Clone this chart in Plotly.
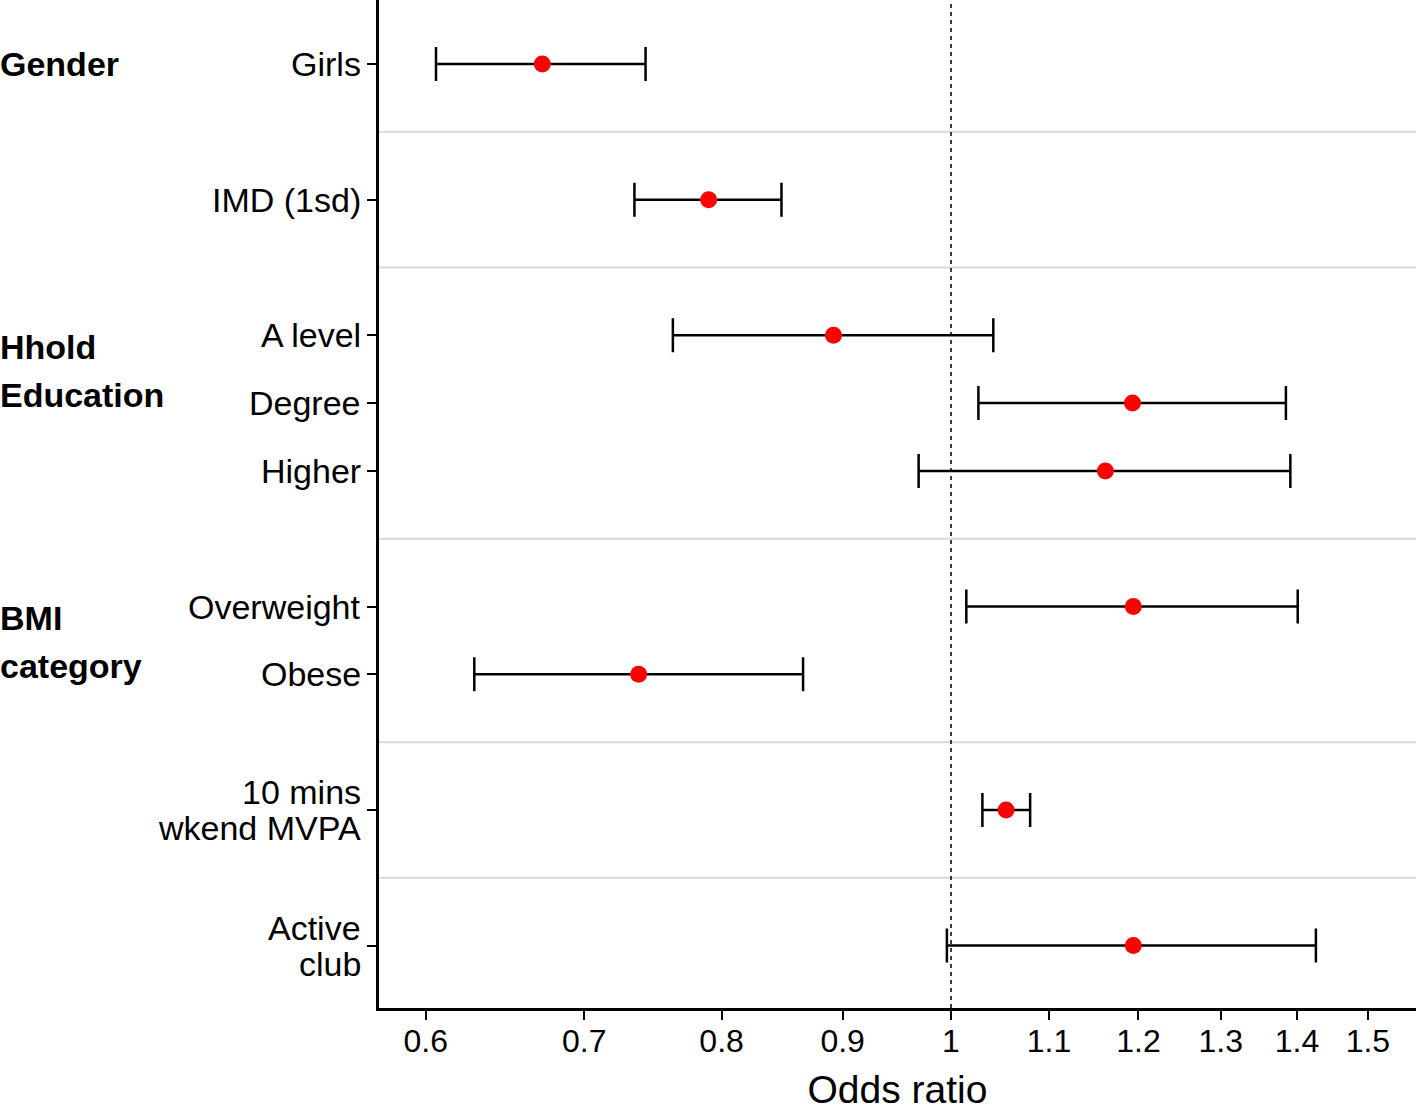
import plotly.graph_objects as go

# ---- data ----
groups = ["Gender", "", "Hhold<br>Education", "BMI<br>category", "", ""]
group_items = [
    ["Girls"],
    ["IMD (1sd)"],
    ["A level", "Degree", "Higher"],
    ["Overweight", "Obese"],
    ["10 mins<br>wkend MVPA"],
    ["Active<br>club"],
]
odds_ratio = [0.672, 0.790, 0.892, 1.193, 1.162, 1.194, 0.738, 1.055, 1.194]
ci_lower = [0.606, 0.735, 0.763, 1.027, 0.969, 1.015, 0.629, 1.031, 0.996]
ci_upper = [0.743, 0.848, 1.042, 1.385, 1.391, 1.401, 0.866, 1.080, 1.426]
x_ticks = [0.6, 0.7, 0.8, 0.9, 1.0, 1.1, 1.2, 1.3, 1.4, 1.5]
x_tick_labels = ["0.6", "0.7", "0.8", "0.9", "1", "1.1", "1.2", "1.3", "1.4", "1.5"]

# ---- layout of rows: one empty slot between groups ----
labels, ypos, group_start, separators = [], [], [], []
p = 0
for gi, items in enumerate(group_items):
    group_start.append(p)
    for it in items:
        labels.append(it)
        ypos.append(p)
        p += 1
    if gi < len(group_items) - 1:
        separators.append(p)
        p += 1

FONT = "Liberation Sans, Arial, sans-serif"

err_plus = [u - m for u, m in zip(ci_upper, odds_ratio)]
err_minus = [m - l for m, l in zip(odds_ratio, ci_lower)]

fig = go.Figure()
fig.add_trace(go.Scatter(
    x=odds_ratio, y=ypos, mode="markers",
    marker=dict(color="#FF0000", size=17, line=dict(width=0)),
    error_x=dict(type="data", symmetric=False, array=err_plus, arrayminus=err_minus,
                 color="black", thickness=2.5, width=17),
    showlegend=False, hoverinfo="x+y",
))

shapes = []
for s in separators:
    shapes.append(dict(type="line", xref="paper", x0=0, x1=1, yref="y", y0=s, y1=s,
                       line=dict(color="#d9d9d9", width=2), layer="below"))
shapes.append(dict(type="line", xref="x", x0=1, x1=1, yref="paper", y0=0, y1=1,
                   line=dict(color="black", width=1.5, dash="4px,4px"), layer="below"))

annotations = []
# y-axis row labels
for lab, y in zip(labels, ypos):
    lines = lab.split("<br>")
    n = len(lines)
    for i, ln in enumerate(lines):
        off = (i - (n - 1) / 2) * 36
        annotations.append(dict(text=ln, xref="paper", x=0, xanchor="right", xshift=-16,
                                yref="y", y=y, yanchor="middle", yshift=-off, showarrow=False,
                                font=dict(family=FONT, size=34, color="black")))
# group labels (bold)
plot_w = 1416 - 379
for g, start, items in zip(groups, group_start, group_items):
    if not g:
        continue
    lines = g.split("<br>")
    n = len(lines)
    center = start if n == 1 else start + 0.53
    for i, ln in enumerate(lines):
        off = (i - (n - 1) / 2) * 48
        annotations.append(dict(text="<b>" + ln + "</b>", xref="paper", x=-379 / plot_w,
                                xanchor="left", xshift=-2, yref="y", y=center, yanchor="middle",
                                yshift=-off, showarrow=False,
                                font=dict(family=FONT, size=34, color="black")))

fig.update_layout(
    width=1418, height=1111,
    margin=dict(l=379, r=2, t=0, b=103),
    paper_bgcolor="white", plot_bgcolor="white",
    font=dict(family=FONT, color="black"),
    shapes=shapes, annotations=annotations,
    xaxis=dict(
        type="log", range=[-0.2416, 0.1964],
        tickvals=x_ticks, ticktext=x_tick_labels,
        showline=True, linecolor="black", linewidth=2.5,
        ticks="outside", ticklen=9, tickwidth=2, tickcolor="black",
        ticklabelstandoff=-6,
        tickfont=dict(family=FONT, size=32, color="black"),
        showgrid=False, zeroline=False,
        title=dict(text="Odds ratio", font=dict(family=FONT, size=39, color="black"), standoff=26),
    ),
    yaxis=dict(
        range=[13.92, -0.944],
        tickvals=ypos, ticktext=[""] * len(ypos), showticklabels=False,
        showline=True, linecolor="black", linewidth=2.5,
        ticks="outside", ticklen=9, tickwidth=2, tickcolor="black",
        showgrid=False, zeroline=False,
    ),
)

fig.write_html("out.html", config={"displayModeBar": False},
               post_script="document.body.style.margin='0';document.body.style.padding='0';")
